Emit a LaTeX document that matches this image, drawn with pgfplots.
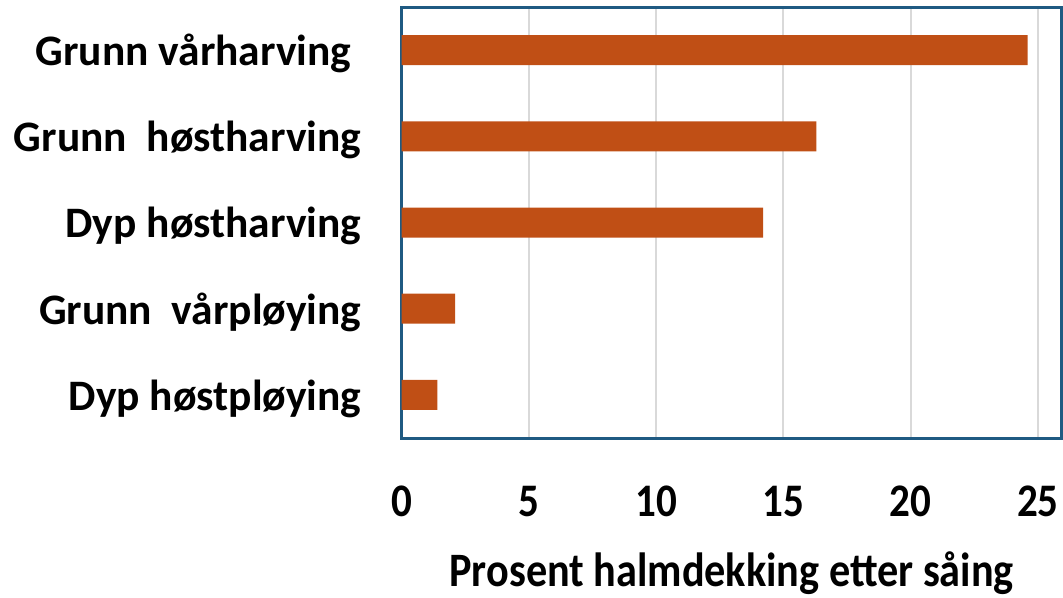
\documentclass[border=0pt]{standalone}
\usepackage{pgfplots}
\pgfplotsset{compat=1.18}
\usepackage{fontspec}
\setmainfont{Carlito}
\newfontfamily\narrowfont{Carlito}[FakeStretch=0.88]
\definecolor{barc}{RGB}{192,79,21}
\definecolor{axc}{RGB}{31,90,130}
\definecolor{gridc}{RGB}{217,217,217}
\pgfplotstableread{
y val
0 1.4
1 2.1
2 14.2
3 16.3
4 24.6
}\datatab
\begin{document}
\begin{tikzpicture}
\begin{axis}[
  name=ax,
  scale only axis, width=495pt, height=323.25pt,
  xbar, bar width=22.5pt,
  xmin=0, xmax=25.94, ymin=-0.5, ymax=4.5,
  xtick={0,5,10,15,20,25},
  ytick={0,1,2,3,4},
  yticklabels={Dyp høstpløying, Grunn\ \ vårpløying, Dyp høstharving, Grunn\ \ høstharving, {Grunn vårharving\kern7.5pt}},
  xmajorgrids, major grid style={gridc, line width=1.5pt},
  axis line style={axc, line width=2.25pt},
  tick style={draw=none},
  /pgf/number format/assume math mode=true,
  yticklabel style={font=\bfseries\fontsize{32.6}{32.6}\selectfont, inner sep=0pt, anchor=base east, xshift=-25.8pt, yshift=-11.6pt},
  xticklabel style={font=\narrowfont\bfseries\fontsize{35}{35}\selectfont, inner sep=0pt, anchor=base, yshift=-58.5pt},
  xlabel={Prosent halmdekking etter såing},
  xlabel style={font=\narrowfont\bfseries\fontsize{36}{36}\selectfont, inner sep=0pt, anchor=base, at={(axis description cs:0.5,0)}, yshift=-111pt},
]
\addplot[draw=none, fill=barc] table[x=val, y=y] {\datatab};
\end{axis}
\pgfresetboundingbox
\useasboundingbox (ax.south west) ++(-301.3pt,-119.25pt) rectangle ++(797.25pt,447.75pt);
\end{tikzpicture}
\end{document}
